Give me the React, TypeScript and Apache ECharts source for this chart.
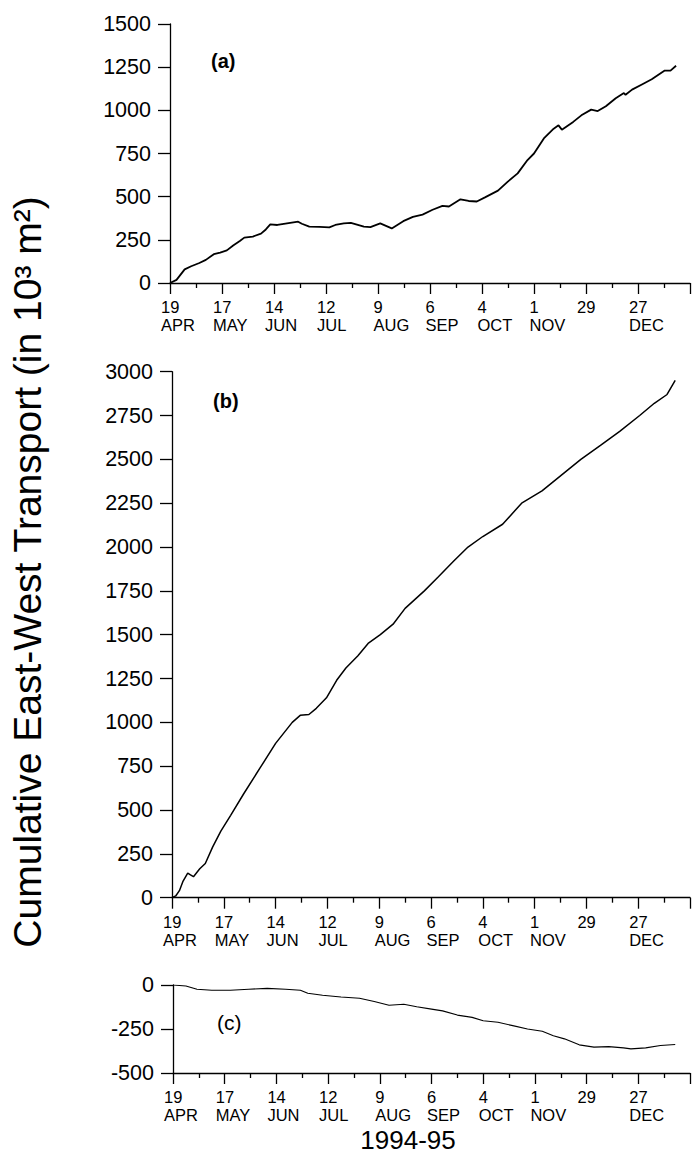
import React, { useEffect, useRef } from "react";
import * as echarts from "echarts";

// x values are days since 19 APR 1994
const tickDays = ["19", "17", "14", "12", "9", "6", "4", "1", "29", "27"];
const tickMonths = ["APR", "MAY", "JUN", "JUL", "AUG", "SEP", "OCT", "NOV", "", "DEC"];

const aDays = [0, 3.5, 7.9, 11.4, 15.8, 19.3, 23.6, 27, 30.6, 34, 37.6, 40, 44.6, 49, 51.6, 54, 57.8, 63, 69, 71, 75, 80.5, 85.8, 89, 93.6, 97.4, 104.4, 107.9, 113.2, 119.4, 125.6, 130.8, 136, 141.4, 146.7, 150.2, 156.4, 160.8, 165.2, 169.6, 176.6, 181.9, 187.2, 192.5, 196, 201.3, 206.6, 209.2, 211, 217.1, 221.5, 226.8, 230.3, 234.7, 240, 244.4, 245.3, 248.8, 254.1, 259.4, 266.4, 269.5, 272.5];
const aVals = [0, 18, 79, 97, 116, 134, 167, 176, 189, 217, 243, 263, 269, 286, 310, 339, 336, 345, 355, 343, 326, 325, 322, 336, 345, 348, 326, 324, 345, 316, 358, 383, 396, 424, 447, 443, 485, 475, 472, 496, 535, 587, 635, 712, 750, 837, 894, 913, 888, 933, 971, 1004, 996, 1024, 1070, 1100, 1090, 1120, 1150, 1180, 1230, 1230, 1258];

const bDays = [0, 2, 4, 6, 8.5, 10, 11.6, 15, 18, 22, 26.4, 31.7, 38.6, 47.6, 56, 65, 69.3, 74, 78, 83.5, 89, 94, 100.5, 106, 112.6, 119.5, 126, 136.4, 144, 152.3, 160, 168, 178.7, 189, 200, 210.5, 221, 231.6, 242, 252.8, 260.7, 267.6, 272];
const bVals = [0, 10, 40, 95, 140, 130, 120, 165, 195, 290, 380, 470, 590, 740, 880, 1000, 1040, 1045, 1080, 1140, 1240, 1310, 1380, 1450, 1500, 1560, 1650, 1750, 1830, 1920, 2000, 2060, 2130, 2250, 2320, 2410, 2500, 2580, 2660, 2750, 2820, 2870, 2950];

const cDays = [0, 7, 13, 21, 31, 41, 51, 61, 69, 73, 81, 91, 101, 109, 117, 125, 132, 140, 146, 154, 162, 168, 176, 184, 192, 200, 206, 212, 220, 228, 236, 244, 248, 256, 264, 272];
const cVals = [0, -6, -24, -30, -30, -24, -19, -24, -30, -47, -58, -68, -75, -94, -115, -109, -124, -137, -147, -171, -184, -203, -212, -231, -250, -263, -288, -306, -340, -353, -350, -357, -363, -357, -344, -338];

const FONT = "'Liberation Sans', Arial, Helvetica, sans-serif";
const PX_PER_DAY = 1.9;
const X_MAX = 280;

function pairs(xs: number[], ys: number[]) {
  return xs.map((x, i) => [x, ys[i]]);
}

function xLabel(v: number) {
  const i = Math.round(v / 28);
  const d = tickDays[i];
  if (d == null) return "";
  const key = "w" + d.length;
  const m = tickMonths[i];
  return m ? `{${key}|${d}}\n{${key}|${m}}` : `{${key}|${d}}`;
}

function makeXAxis(gridIndex: number) {
  const tok = { fontSize: 16.5, lineHeight: 18, align: "left", color: "#000", fontFamily: FONT };
  return {
    type: "value",
    gridIndex,
    min: 0,
    max: X_MAX,
    interval: 28,
    axisLine: { show: true, onZero: false, lineStyle: { color: "#000", width: 1.3 } },
    axisTick: { show: true, length: 11, lineStyle: { color: "#000", width: 1.3 } },
    minorTick: { show: true, splitNumber: 2, length: 5, lineStyle: { color: "#000", width: 1.3 } },
    splitLine: { show: false },
    minorSplitLine: { show: false },
    axisLabel: {
      show: true,
      margin: 15,
      formatter: xLabel,
      fontFamily: FONT,
      fontSize: 16.5,
      lineHeight: 18,
      color: "#000",
      rich: {
        w1: { ...tok, width: 9 },
        w2: { ...tok, width: 18 },
      },
    },
  };
}

function makeYAxis(gridIndex: number, min: number, max: number) {
  return {
    type: "value",
    gridIndex,
    min,
    max,
    interval: 250,
    axisLine: { show: true, lineStyle: { color: "#000", width: 1.3 } },
    axisTick: { show: true, length: 12, lineStyle: { color: "#000", width: 1.3 } },
    splitLine: { show: false },
    axisLabel: { margin: 19, fontSize: 21.5, color: "#000", fontFamily: FONT, formatter: (v: number) => String(v) },
  };
}

export default function App() {
  const ref = useRef<HTMLDivElement>(null);
  useEffect(() => {
    if (!ref.current) return;
    const chart = echarts.init(ref.current, undefined, { renderer: "svg" });
    const w = X_MAX * PX_PER_DAY;
    const option = {
      animation: false,
      backgroundColor: "#fff",
      grid: [
        { left: 170, top: 24, width: w, height: 259 },
        { left: 172, top: 371.7, width: w, height: 526 },
        { left: 173, top: 985, width: w, height: 88 },
      ],
      xAxis: [makeXAxis(0), makeXAxis(1), makeXAxis(2)],
      yAxis: [makeYAxis(0, 0, 1500), makeYAxis(1, 0, 3000), makeYAxis(2, -500, 0)],
      series: [
        { type: "line", xAxisIndex: 0, yAxisIndex: 0, data: pairs(aDays, aVals), showSymbol: false, lineStyle: { color: "#000", width: 1.8 }, silent: true },
        { type: "line", xAxisIndex: 1, yAxisIndex: 1, data: pairs(bDays, bVals), showSymbol: false, lineStyle: { color: "#000", width: 1.5 }, silent: true },
        { type: "line", xAxisIndex: 2, yAxisIndex: 2, data: pairs(cDays, cVals), showSymbol: false, lineStyle: { color: "#000", width: 1.1 }, silent: true },
      ],
      graphic: [
        { type: "text", x: 211, y: 61, style: { text: "(a)", font: `bold 20px ${FONT}`, fill: "#000", verticalAlign: "middle" } },
        { type: "text", x: 213, y: 401, style: { text: "(b)", font: `bold 20px ${FONT}`, fill: "#000", verticalAlign: "middle" } },
        { type: "text", x: 217, y: 1022, style: { text: "(c)", font: `21px ${FONT}`, fill: "#000", verticalAlign: "middle" } },
        { type: "text", x: 408, y: 1140, style: { text: "1994-95", font: `26px ${FONT}`, fill: "#000", align: "center", verticalAlign: "middle" } },
        {
          type: "text",
          x: 27,
          y: 572,
          rotation: Math.PI / 2,
          style: { text: "Cumulative East-West Transport (in 10³ m²)", font: `39px ${FONT}`, fill: "#000", align: "center", verticalAlign: "middle" },
        },
      ],
    };
    chart.setOption(option as any);
    return () => chart.dispose();
  }, []);
  return <div ref={ref} style={{ position: "absolute", left: 0, top: 0, width: 693, height: 1154 }} />;
}
